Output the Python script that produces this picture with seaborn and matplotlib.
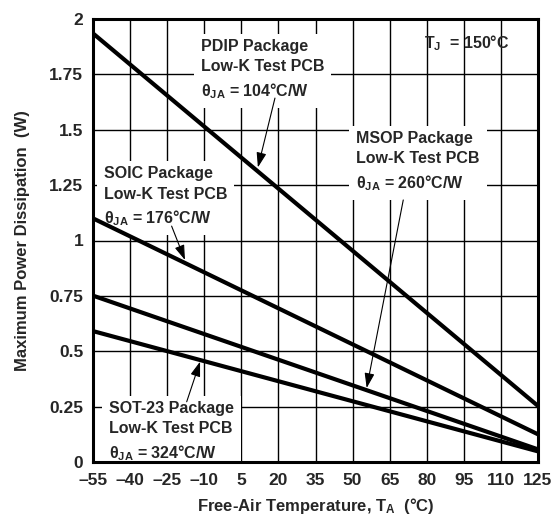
import matplotlib
matplotlib.use("Agg")
import matplotlib.pyplot as plt
import seaborn as sns
import pandas as pd

# Data
packages = ["PDIP", "SOIC", "MSOP", "SOT-23"]
temp_ends = [-55, 125]
pdip_w = [1.935, 0.253]
soic_w = [1.10, 0.125]
msop_w = [0.751, 0.057]
sot23_w = [0.591, 0.048]
x_ticks = [-55, -40, -25, -10, 5, 20, 35, 50, 65, 80, 95, 110, 125]
y_ticks = [0, 0.25, 0.5, 0.75, 1, 1.25, 1.5, 1.75, 2]
y_tick_labels = ["0", "0.25", "0.5", "0.75", "1", "1.25", "1.5", "1.75", "2"]

rows = []
for name, vals in zip(packages, [pdip_w, soic_w, msop_w, sot23_w]):
    for t, v in zip(temp_ends, vals):
        rows.append({"pkg": name, "T": t, "P": v})
df = pd.DataFrame(rows)

sns.set_style("white", rc={"axes.edgecolor": "black"})
plt.rcParams["font.family"] = ["Liberation Sans", "DejaVu Sans"]
plt.rcParams["font.weight"] = "bold"
plt.rcParams["mathtext.fontset"] = "custom"
plt.rcParams["mathtext.rm"] = "Liberation Sans:bold"
plt.rcParams["mathtext.it"] = "Liberation Sans:bold"
plt.rcParams["mathtext.bf"] = "Liberation Sans:bold"

fig = plt.figure(figsize=(5.56, 5.23), dpi=100)
ax = fig.add_axes([93 / 556, 1 - 462 / 523, 445 / 556, 443 / 523])

# grid drawn from the tick arrays
ax.vlines(x_ticks, y_ticks[0], y_ticks[-1], colors="black", linewidth=1.0, zorder=2)
ax.hlines(y_ticks, x_ticks[0], x_ticks[-1], colors="black", linewidth=1.0, zorder=2)

sns.lineplot(data=df, x="T", y="P", hue="pkg", palette=["black"] * 4,
             legend=False, linewidth=3.0, ax=ax, zorder=5)

ax.set_xlim(-55, 125)
ax.set_ylim(0, 2)
ax.set_xticks(x_ticks)
ax.set_xticklabels([str(v).replace("-", "\u2013") for v in x_ticks])
ax.set_yticks(y_ticks)
ax.set_yticklabels(y_tick_labels)
ax.tick_params(axis="both", length=0, labelsize=12.5)
ax.tick_params(axis="x", pad=8)
ax.tick_params(axis="y", pad=7)
for s in ax.spines.values():
    s.set_linewidth(2.2)
    s.set_zorder(6)

ax.set_xlabel("Free-Air Temperature, T$_{\\mathregular{A}}$  (°C)", fontsize=12,
              fontweight="bold", labelpad=6)
ax.set_ylabel("Maximum Power Dissipation  (W)", fontsize=12,
              fontweight="bold", labelpad=14)

box = dict(facecolor="white", edgecolor="none", pad=5)
arrow = dict(arrowstyle="-|>,head_length=0.9,head_width=0.3", color="black",
             lw=0.8, shrinkA=0, shrinkB=0)

ax.text(-11.5, 1.77, "PDIP Package\nLow-K Test PCB\n\u03b8$_{\\mathregular{JA}}$ = 104°C/W",
        ha="left", va="center", fontsize=11.5, linespacing=1.45, bbox=box, zorder=3)
ax.annotate("", xy=(11.7, 1.33), xytext=(18.6, 1.643), arrowprops=arrow, zorder=4)

ax.text(51.5, 1.355, "MSOP Package\nLow-K Test PCB\n\u03b8$_{\\mathregular{JA}}$ = 260°C/W",
        ha="left", va="center", fontsize=11.5, linespacing=1.45, bbox=box, zorder=3)
ax.annotate("", xy=(55.7, 0.334), xytext=(70.5, 1.183), arrowprops=arrow, zorder=4)

ax.text(-50.5, 1.195, "SOIC Package\nLow-K Test PCB\n\u03b8$_{\\mathregular{JA}}$ = 176°C/W",
        ha="left", va="center", fontsize=11.5, linespacing=1.45, bbox=box, zorder=3)
ax.annotate("", xy=(-17.8, 0.912), xytext=(-23.2, 1.065), arrowprops=arrow, zorder=4)

ax.text(-48.5, 0.137, "SOT-23 Package\nLow-K Test PCB\n\u03b8$_{\\mathregular{JA}}$ = 324°C/W",
        ha="left", va="center", fontsize=11.5, linespacing=1.45, bbox=box, zorder=3)
ax.annotate("", xy=(-11.7, 0.453), xytext=(-17.1, 0.272), arrowprops=arrow, zorder=4)

ax.text(79, 1.89, "T$_{\\mathregular{J}}$  = 150°C", ha="left", va="center",
        fontsize=11.5, zorder=4)

fig.savefig("out.png", dpi=100)
